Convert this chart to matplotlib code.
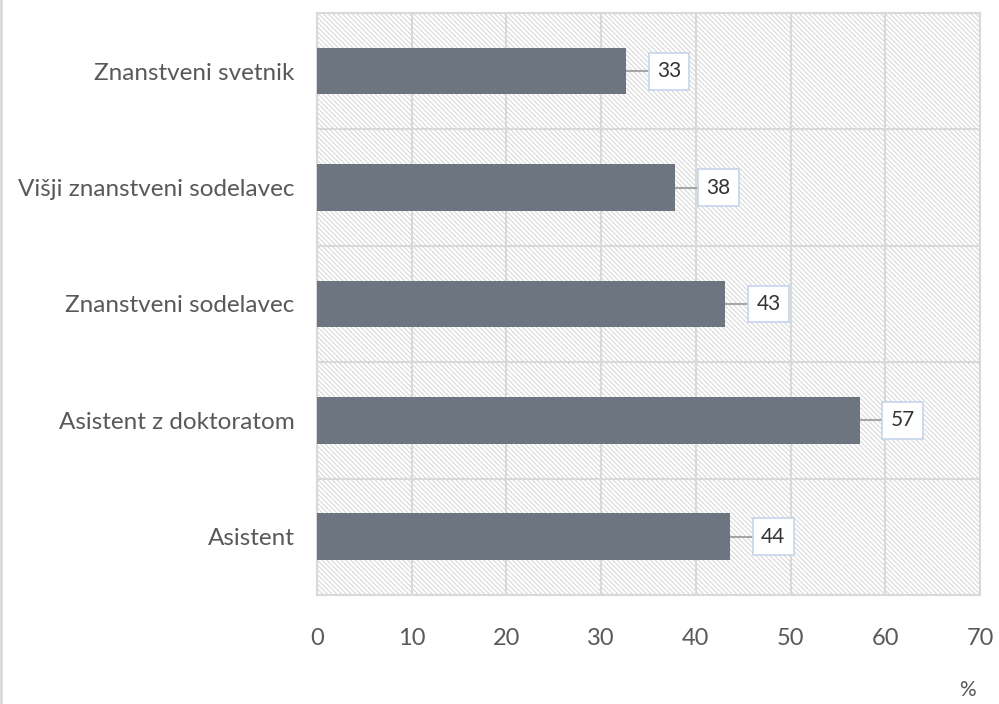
import matplotlib
matplotlib.use("Agg")
import matplotlib.pyplot as plt
from matplotlib.patches import Rectangle
from matplotlib.lines import Line2D

categories = ["Asistent", "Asistent z doktoratom", "Znanstveni sodelavec",
              "Višji znanstveni sodelavec", "Znanstveni svetnik"]
values = [43.6, 57.3, 43.1, 37.8, 32.6]
labels = ["44", "57", "43", "38", "33"]
xticks = [0, 10, 20, 30, 40, 50, 60, 70]

plt.rcParams['font.family'] = ['Lato', 'DejaVu Sans']
plt.rcParams['hatch.linewidth'] = 0.8

fig = plt.figure(figsize=(9.99, 7.04), dpi=100)
ax = fig.add_axes([0.3173, 0.155, 0.9810 - 0.3173, 0.9815 - 0.155])

grid_c = '#d9d9d9'
text_c = '#595959'

bg = Rectangle((0, 0), 1, 1, transform=ax.transAxes, facecolor='white',
               edgecolor=grid_c, hatch='\\' * 7, linewidth=0, zorder=0)
ax.add_patch(bg)

y = list(range(len(categories)))
ax.barh(y, values, height=0.40, color='#6d7680', zorder=3)

ax.set_xlim(0, 70)
ax.set_ylim(-0.5, len(categories) - 0.5)
ax.set_xticks(xticks)
ax.set_xticklabels([str(t) for t in xticks])
ax.set_yticks(y)
ax.set_yticklabels(categories)
ax.tick_params(axis='both', length=0, labelsize=17, colors=text_c)
ax.tick_params(axis='y', labelsize=17.5, pad=16)
ax.tick_params(axis='x', pad=24)

for xv in xticks:
    ax.axvline(xv, color=grid_c, lw=1.5, zorder=1)
for i in range(len(categories) + 1):
    ax.axhline(i - 0.5, color=grid_c, lw=1.5, zorder=1)
for s in ax.spines.values():
    s.set_color(grid_c)
    s.set_linewidth(1.5)

for yi, v, lab in zip(y, values, labels):
    ax.plot([v, v + 2.4], [yi, yi], color='#a6a6a6', lw=1.5, zorder=2)
    ax.annotate(lab, xy=(v + 2.4, yi), xytext=(6, 0), textcoords='offset points',
                ha='left', va='center', fontsize=15, color='#333333', zorder=4,
                bbox=dict(boxstyle='square,pad=0.4', facecolor='white',
                          edgecolor='#c5d5ea', linewidth=1.2))

fig.text(0.968, 0.005, '%', ha='center', va='bottom', fontsize=15, color=text_c)
fig.add_artist(Line2D([0.0015, 0.0015], [0, 1], transform=fig.transFigure,
                      color=grid_c, lw=2))

fig.savefig('out.png', dpi=100)
